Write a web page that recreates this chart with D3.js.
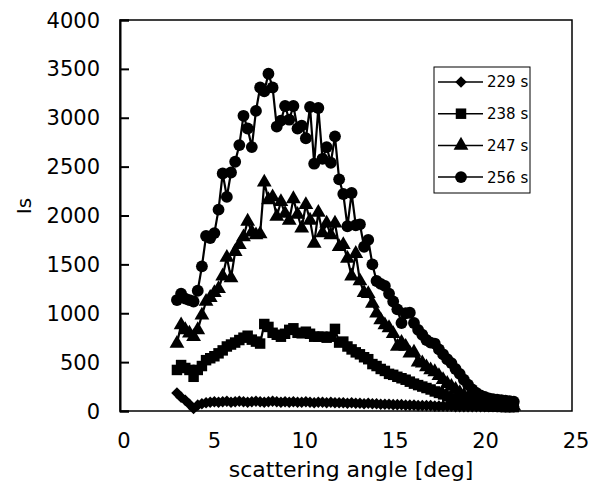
<!DOCTYPE html>
<html>
<head>
<meta charset="utf-8">
<script src="https://cdn.jsdelivr.net/npm/d3@7"></script>
<style>
  body { margin: 0; background: #fff; }
  text { font-family: "DejaVu Sans", sans-serif; fill: #000; }
</style>
</head>
<body>
<div id="canvas"></div>
<script>
var w = 591;
var h = 495;

// scattering angle [deg], shared by all series
var angles = [3.15, 3.38, 3.61, 3.84, 4.07, 4.30, 4.53, 4.76, 4.99, 5.22,
  5.45, 5.68, 5.91, 6.14, 6.37, 6.60, 6.83, 7.06, 7.29, 7.52,
  7.75, 7.98, 8.21, 8.44, 8.67, 8.90, 9.13, 9.36, 9.59, 9.82,
  10.05, 10.28, 10.51, 10.74, 10.97, 11.20, 11.43, 11.66, 11.89, 12.12,
  12.35, 12.58, 12.81, 13.04, 13.27, 13.50, 13.73, 13.96, 14.19, 14.42,
  14.65, 14.88, 15.11, 15.34, 15.57, 15.80, 16.03, 16.26, 16.49, 16.72,
  16.95, 17.18, 17.41, 17.64, 17.87, 18.10, 18.33, 18.56, 18.79, 19.02,
  19.25, 19.48, 19.71, 19.94, 20.17, 20.40, 20.63, 20.86, 21.09, 21.32,
  21.55, 21.78];

var is229 = [185, 140, 110, 70, 25, 60, 75, 85, 90, 95,
  90, 95, 100, 90, 95, 100, 95, 90, 95, 100,
  95, 90, 95, 100, 95, 90, 95, 90, 95, 90,
  90, 95, 90, 85, 90, 90, 85, 90, 85, 85,
  85, 80, 85, 80, 80, 75, 80, 75, 75, 70,
  70, 70, 65, 65, 65, 60, 60, 60, 55, 55,
  55, 55, 50, 50, 50, 50, 50, 45, 45, 45,
  45, 45, 45, 45, 45, 45, 45, 45, 45, 45,
  45, 45];

var is238 = [420, 470, 440, 420, 350, 420, 460, 520, 540, 560,
  590, 620, 660, 680, 700, 726, 750, 770, 730, 710,
  690, 890, 860, 800, 780, 760, 790, 830, 846, 800,
  795, 811, 790, 760, 760, 760, 750, 760, 840, 700,
  710, 660, 630, 600, 580, 550, 530, 480, 460, 430,
  410, 380, 370, 350, 335, 320, 300, 280, 265, 250,
  235, 220, 200, 185, 170, 150, 130, 115, 100, 85,
  75, 65, 60, 55, 50, 48, 45, 45, 42, 40,
  40, 40];

var is247 = [690, 880, 830, 795, 760, 830, 980, 1120, 1160, 1210,
  1250, 1380, 1570, 1360, 1630, 1700, 1780, 1940, 1830, 1800,
  1810, 2340, 2160, 2190, 1990, 2140, 2020, 1950, 2170, 2010,
  1870, 2110, 1950, 1715, 2030, 1820, 1920, 1800, 1920, 1680,
  1700, 1560, 1380, 1610, 1330, 1210, 1200, 1100, 1000, 930,
  880, 850, 790, 660, 700, 660, 590, 600, 500, 490,
  450, 420, 400, 360, 320, 280, 250, 220, 185, 160,
  130, 110, 95, 85, 75, 70, 65, 60, 55, 55,
  50, 50];

var is256 = [1135, 1200, 1150, 1135, 1120, 1230, 1480, 1790, 1770, 1820,
  2060, 2430, 2190, 2440, 2550, 2720, 3020, 2890, 2700, 3070,
  3310, 3270, 3450, 3310, 2910, 2970, 3120, 2980, 3120, 2890,
  2920, 2790, 3110, 2530, 3100, 2580, 2700, 2540, 2810, 2370,
  2220, 1890, 2230, 1900, 1910, 1680, 1750, 1500, 1330, 1300,
  1280, 1200, 1120, 1040, 900, 1000, 1005, 900, 830, 780,
  726, 700, 690, 630, 580, 530, 490, 430, 380, 320,
  270, 220, 185, 160, 145, 130, 120, 115, 110, 105,
  100, 95];

var seriesNames = ["229 s", "238 s", "247 s", "256 s"];
var xTicks = [0, 5, 10, 15, 20, 25];
var yTicks = [0, 500, 1000, 1500, 2000, 2500, 3000, 3500, 4000];

var series = [
  {name: seriesNames[0], values: is229, symbol: d3.symbolDiamond2, size: 85},
  {name: seriesNames[1], values: is238, symbol: d3.symbolSquare, size: 110},
  {name: seriesNames[2], values: is247, symbol: d3.symbolTriangle, size: 95},
  {name: seriesNames[3], values: is256, symbol: d3.symbolCircle, size: 110}
];

var xScale = d3.scaleLinear().domain([0, 25]).range([120, 572]);
var yScale = d3.scaleLinear().domain([0, 4000]).range([411, 20]);

var canvas = d3.select("#canvas")
  .append("svg")
  .attr("width", w)
  .attr("height", h)
  .style("background-color", "white");

// plot frame
canvas.append("rect")
  .attr("x", 120).attr("y", 20)
  .attr("width", 452).attr("height", 391)
  .attr("fill", "none")
  .attr("stroke", "black")
  .attr("stroke-width", 1.5);

// y axis, ticks pointing inward
var yAxis = d3.axisRight(yScale).tickValues(yTicks).tickSize(9).tickFormat("");
canvas.append("g")
  .attr("transform", "translate(120, 0)")
  .call(yAxis)
  .call(g => g.select(".domain").attr("stroke-width", 2))
  .call(g => g.selectAll(".tick line").attr("stroke-width", 2));

canvas.append("g")
  .selectAll("text")
  .data(yTicks)
  .join("text")
  .attr("x", 100)
  .attr("y", d => yScale(d))
  .attr("dy", "0.36em")
  .attr("text-anchor", "end")
  .style("font-size", "21px")
  .text(d => d);

canvas.append("g")
  .selectAll("text")
  .data(xTicks)
  .join("text")
  .attr("x", d => xScale(d) + 4)
  .attr("y", 448)
  .attr("text-anchor", "middle")
  .style("font-size", "21px")
  .text(d => d);

canvas.append("text")
  .attr("x", 351)
  .attr("y", 477)
  .attr("text-anchor", "middle")
  .style("font-size", "22px")
  .text("scattering angle [deg]");

canvas.append("text")
  .attr("transform", "translate(31, 206) rotate(-90)")
  .attr("text-anchor", "middle")
  .style("font-size", "20px")
  .text("Is");

var line = d3.line()
  .x((d, i) => xScale(angles[i]))
  .y(d => yScale(d));

series.forEach(function (s) {
  var g = canvas.append("g");
  g.append("path")
    .attr("d", line(s.values))
    .attr("fill", "none")
    .attr("stroke", "black")
    .attr("stroke-width", 2.2);
  g.selectAll("path.marker")
    .data(s.values)
    .join("path")
    .attr("class", "marker")
    .attr("d", d3.symbol().type(s.symbol).size(s.size))
    .attr("fill", "black")
    .attr("transform", (d, i) => `translate(${xScale(angles[i])}, ${yScale(d)})`);
});

// legend
var legend = canvas.append("g").attr("transform", "translate(434, 67)");
legend.append("rect")
  .attr("width", 96).attr("height", 126)
  .attr("fill", "white")
  .attr("stroke", "black")
  .attr("stroke-width", 1);

var items = legend.selectAll("g.item")
  .data(series)
  .join("g")
  .attr("class", "item")
  .attr("transform", (d, i) => `translate(0, ${15 + i * 31.7})`);

items.append("line")
  .attr("x1", 4).attr("x2", 49)
  .attr("stroke", "black")
  .attr("stroke-width", 1.5);

items.append("path")
  .attr("d", d => d3.symbol().type(d.symbol).size(d.size)())
  .attr("transform", "translate(27, 0)")
  .attr("fill", "black");

items.append("text")
  .attr("x", 53)
  .attr("dy", "0.36em")
  .style("font-size", "15px")
  .text(d => d.name);
</script>
</body>
</html>
